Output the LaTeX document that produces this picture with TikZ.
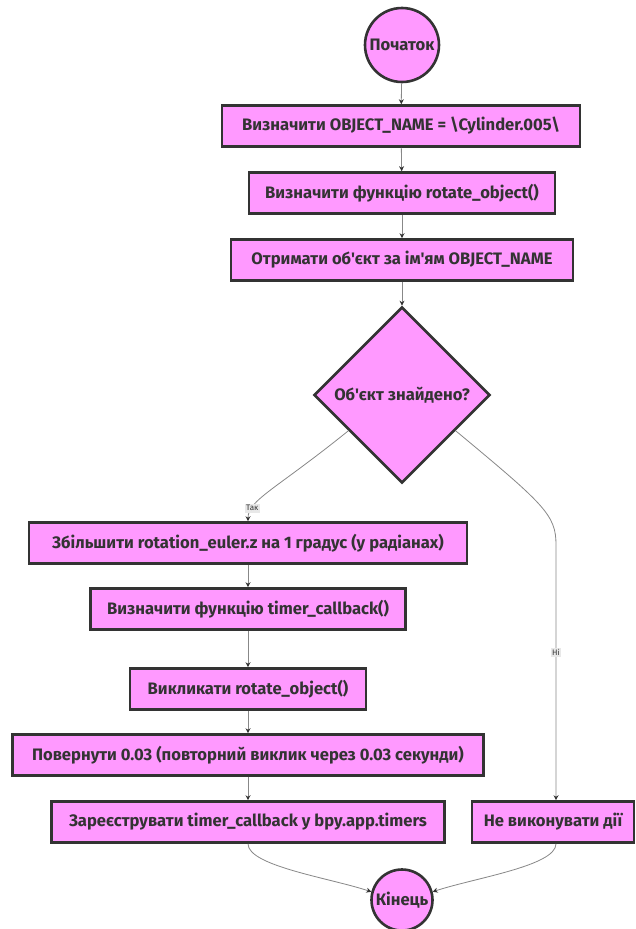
\documentclass[tikz,border=0pt]{standalone}
\usepackage{fontspec}
\setmainfont{Fira Sans}[Ligatures=TeXOff]
\usetikzlibrary{shapes.geometric,calc,arrows.meta}
\definecolor{nodefill}{HTML}{FF99FF}
\definecolor{nodeline}{HTML}{333333}
\definecolor{edgecol}{HTML}{888888}
\definecolor{lblbg}{HTML}{E8E8E8}
\tikzset{
  nodefont/.style={font=\bfseries\fontsize{16.6}{19}\selectfont, text=nodeline},
  box/.style={draw=nodeline, line width=2.6pt, fill=nodefill, rectangle, minimum height=41pt, inner sep=0pt, nodefont},
  term/.style={draw=nodeline, line width=2.6pt, fill=nodefill, circle, inner sep=0pt, nodefont},
  decision/.style={draw=nodeline, line width=2.6pt, fill=nodefill, diamond, aspect=1, minimum width=176pt, minimum height=176pt, inner sep=0pt, nodefont},
  conn/.style={draw=edgecol, line width=0.8pt, -{Stealth[length=5pt,width=5pt,color=nodeline]}},
  lbl/.style={fill=lblbg, inner sep=1.5pt, font=\fontsize{8}{9}\selectfont, text=nodeline}
}
\begin{document}
\begin{tikzpicture}[x=1pt,y=-1pt]
\useasboundingbox[fill=white] (0,0) rectangle (635,929);
\node[term, minimum size=74pt] (start) at (402,45) {Початок};
\node[box, minimum width=358pt] (n1) at (401,126) {Визначити OBJECT\_NAME = \textbackslash Cylinder.005\textbackslash};
\node[box, minimum width=306pt] (n2) at (402,193) {Визначити функцію rotate\_object()};
\node[box, minimum width=342pt] (n3) at (402,260) {Отримати об'єкт за ім'ям OBJECT\_NAME};
\node[decision] (d) at (402,395) {Об'єкт знайдено?};
\node[box, minimum width=438pt] (n4) at (248,543) {Збільшити rotation\_euler.z на 1 градус (у радіанах)};
\node[box, minimum width=315pt] (n5) at (248,609) {Визначити функцію timer\_callback()};
\node[box, minimum width=236pt] (n6) at (248,689) {Викликати rotate\_object()};
\node[box, minimum width=471pt] (n7) at (248,755) {Повернути 0.03 (повторний виклик через 0.03 секунди)};
\node[box, minimum width=393pt] (n8) at (248,822) {Зареєструвати timer\_callback у bpy.app.timers};
\node[box, minimum width=162pt] (n9) at (553,822) {Не виконувати дії};
\node[term, minimum size=61pt] (fin) at (402,900) {Кінець};

\draw[conn] (start) -- (n1);
\draw[conn] (n1) -- (n2);
\draw[conn] (n2) -- (n3);
\draw[conn] (n3) -- (d);
\draw[conn] ($(d.west)!0.4!(d.south)$) .. controls (275,490) and (248,500) .. node[lbl, pos=0.78] {Так} (n4.north);
\coordinate (bend) at (556,545);
\draw[conn] ($(d.east)!0.4!(d.south)$) .. controls (545,505) and (556,515) .. (bend) -- node[lbl, pos=0.42] {Ні} (n9.north -| bend);
\draw[conn] (n4) -- (n5);
\draw[conn] (n5) -- (n6);
\draw[conn] (n6) -- (n7);
\draw[conn] (n7) -- (n8);
\draw[conn] (n8.south) .. controls (248,866) and (330,878) .. (fin.165);
\draw[conn] (n9.south -| bend) .. controls (556,866) and (474,878) .. (fin.15);
\end{tikzpicture}
\end{document}
